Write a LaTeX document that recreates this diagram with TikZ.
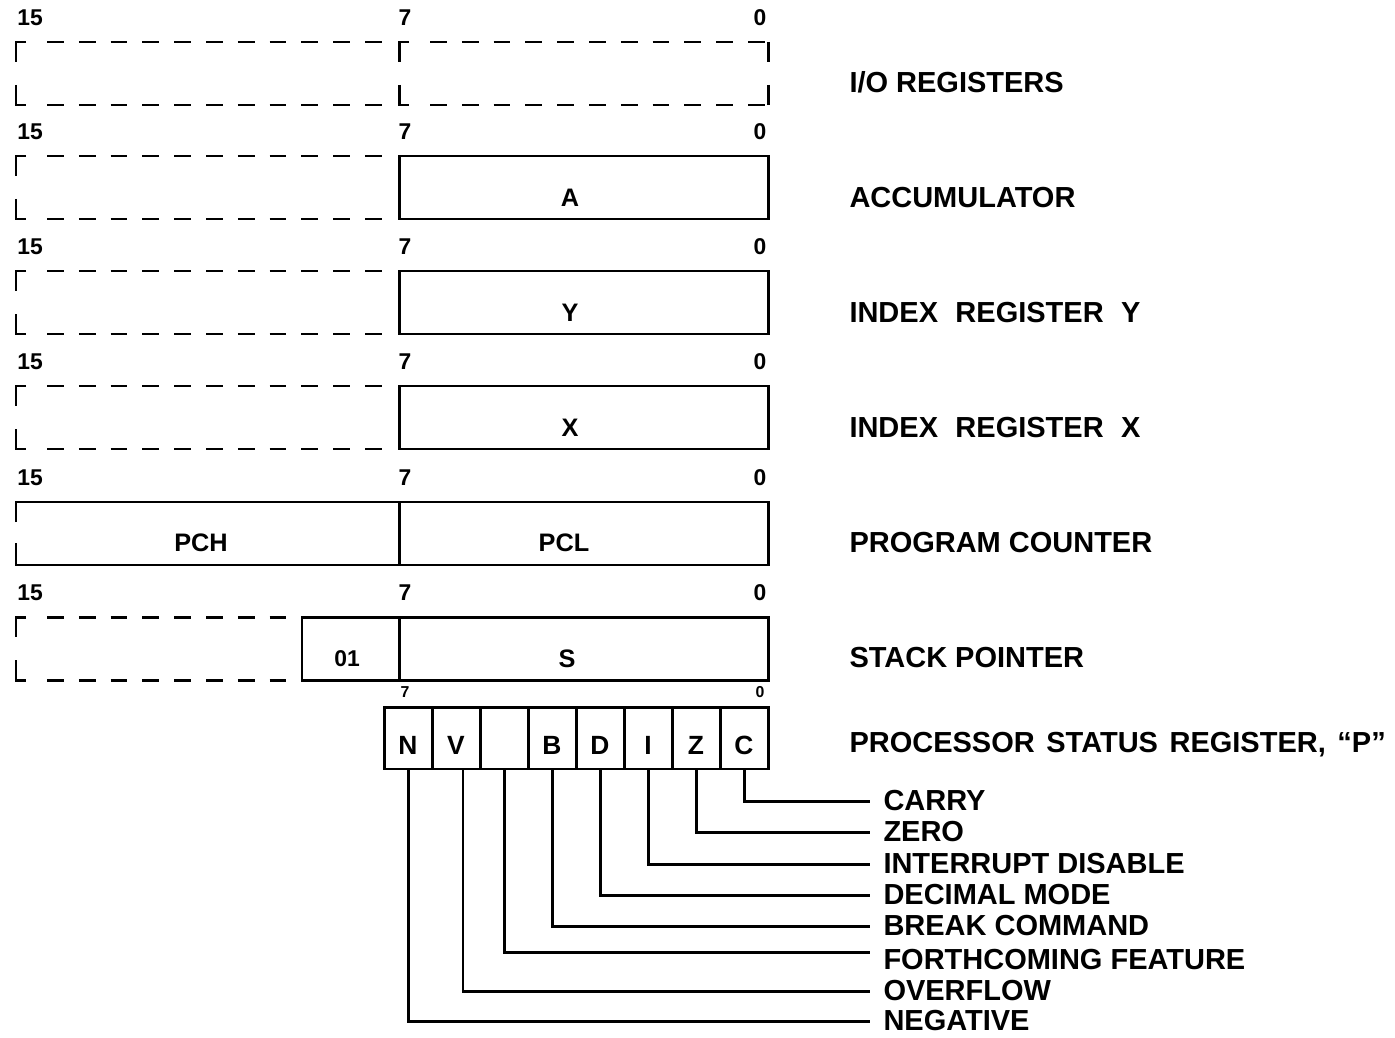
\documentclass[tikz,border=0pt]{standalone}
\usepackage{fontspec}
\setmainfont{Liberation Sans}
\begin{document}
\begin{tikzpicture}[x=0.02cm,y=-0.02cm,line width=1.7pt,
  reglbl/.style={anchor=west,inner sep=0pt,font=\fontsize{16.5}{18}\selectfont\bfseries},
  bitnum/.style={inner sep=0pt,font=\fontsize{13}{14}\selectfont\bfseries},
  smallnum/.style={inner sep=0pt,font=\fontsize{9}{10}\selectfont\bfseries},
  regtxt/.style={inner sep=0pt,font=\fontsize{14.4}{16}\selectfont\bfseries},
  dashln/.style={dash pattern=on 9.6pt off 8.5pt},
  bitbox/.style={draw,minimum width=0.96cm,minimum height=1.24cm,inner sep=0pt,
    text height=0.66cm,text depth=0pt,font=\fontsize{15}{16}\selectfont\bfseries},
  flaglbl/.style={anchor=west,inner xsep=0.24cm,inner ysep=0pt,
    font=\fontsize{16.5}{18}\selectfont\bfseries}]
  \useasboundingbox (0,0) rectangle (1395,1037);
  % bit numbers over each register
  \foreach \t in {42,156,271,386,502,617} {
    \node[bitnum,anchor=west] (hi\t) at (16,\t-24) {15};
    \node[bitnum] (mid\t) at (405,\t-24) {7};
    \node[bitnum] (lo\t) at (760,\t-24) {0};
  }
  % unused high bytes
  \foreach \t/\e in {42/384,156/384,271/384,386/384,617/288} {
    \draw (26,\t) -- (16,\t) -- (16,\t+20);
    \draw (16,\t+43) -- (16,\t+63) -- (26,\t+63);
    \draw[dashln] (47,\t) -- (\e,\t);
    \draw[dashln] (47,\t+63) -- (\e,\t+63);
  }
  \draw (409,42) -- (399,42) -- (399,62);
  \draw (399,85) -- (399,105) -- (409,105);
  \draw[dashln] (430,42) -- (768,42);
  \draw[dashln] (430,105) -- (768,105);
  \draw (768,42) -- (768,62);
  \draw (768,85) -- (768,105);
  % registers
  \draw (399,156) rectangle (768,219);
  \node[regtxt] (regA) at (570,198) {A};
  \draw (399,271) rectangle (768,334);
  \node[regtxt] (regY) at (570,313) {Y};
  \draw (399,386) rectangle (768,449);
  \node[regtxt] (regX) at (570,428) {X};
  \draw (16,522) -- (16,502) -- (768,502) -- (768,565) -- (16,565) -- (16,543);
  \draw (399,502) -- (399,565);
  \node[regtxt] (regPCH) at (201,543) {PCH};
  \node[regtxt] (regPCL) at (564,543) {PCL};
  \draw (302,617) rectangle (399,680);
  \draw (399,617) rectangle (768,680);
  \node[regtxt,font=\fontsize{13}{14}\selectfont\bfseries] (regHi) at (347,659) {01};
  \node[regtxt] (regS) at (567,659) {S};
  % register names
  \node[reglbl] (lblIO) at (848,82) {I/O REGISTERS};
  \node[reglbl] (lblA) at (848,198) {ACCUMULATOR};
  \node[reglbl] (lblY) at (848,313) {INDEX\hspace{0.6em}REGISTER\hspace{0.6em}Y};
  \node[reglbl] (lblX) at (848,428) {INDEX\hspace{0.6em}REGISTER\hspace{0.6em}X};
  \node[reglbl] (lblPC) at (848,543) {PROGRAM COUNTER};
  \node[reglbl] (lblS) at (848,658) {STACK POINTER};
  \node[reglbl] (lblP) at (848,745) {PROCESSOR\hspace{0.4em}STATUS\hspace{0.4em}REGISTER,\hspace{0.4em}“P”};
  % status register
  \node[smallnum] (p7) at (405,692) {7};
  \node[smallnum] (p0) at (760,692) {0};
  \foreach \f [count=\i] in {N,V,{},B,D,I,Z,C}
    \node[bitbox] (bit\i) at ({384+48*(\i-0.5)},738) {\f};
  \node[flaglbl] (fC) at (870,801) {CARRY};
  \node[flaglbl] (fZ) at (870,832) {ZERO};
  \node[flaglbl] (fI) at (870,864) {INTERRUPT DISABLE};
  \node[flaglbl] (fD) at (870,895) {DECIMAL MODE};
  \node[flaglbl] (fB) at (870,926) {BREAK COMMAND};
  \node[flaglbl] (fF) at (870,960) {FORTHCOMING FEATURE};
  \node[flaglbl] (fV) at (870,991) {OVERFLOW};
  \node[flaglbl] (fN) at (870,1021) {NEGATIVE};
  \draw (bit8.south) |- (fC.west);
  \draw (bit7.south) |- (fZ.west);
  \draw (bit6.south) |- (fI.west);
  \draw (bit5.south) |- (fD.west);
  \draw (bit4.south) |- (fB.west);
  \draw (bit3.south) |- ([yshift=0.16cm]fF.west);
  \draw ([xshift=0.14cm]bit2.south) |- (fV.west);
  \draw (bit1.south) |- (fN.west);
\end{tikzpicture}
\end{document}
